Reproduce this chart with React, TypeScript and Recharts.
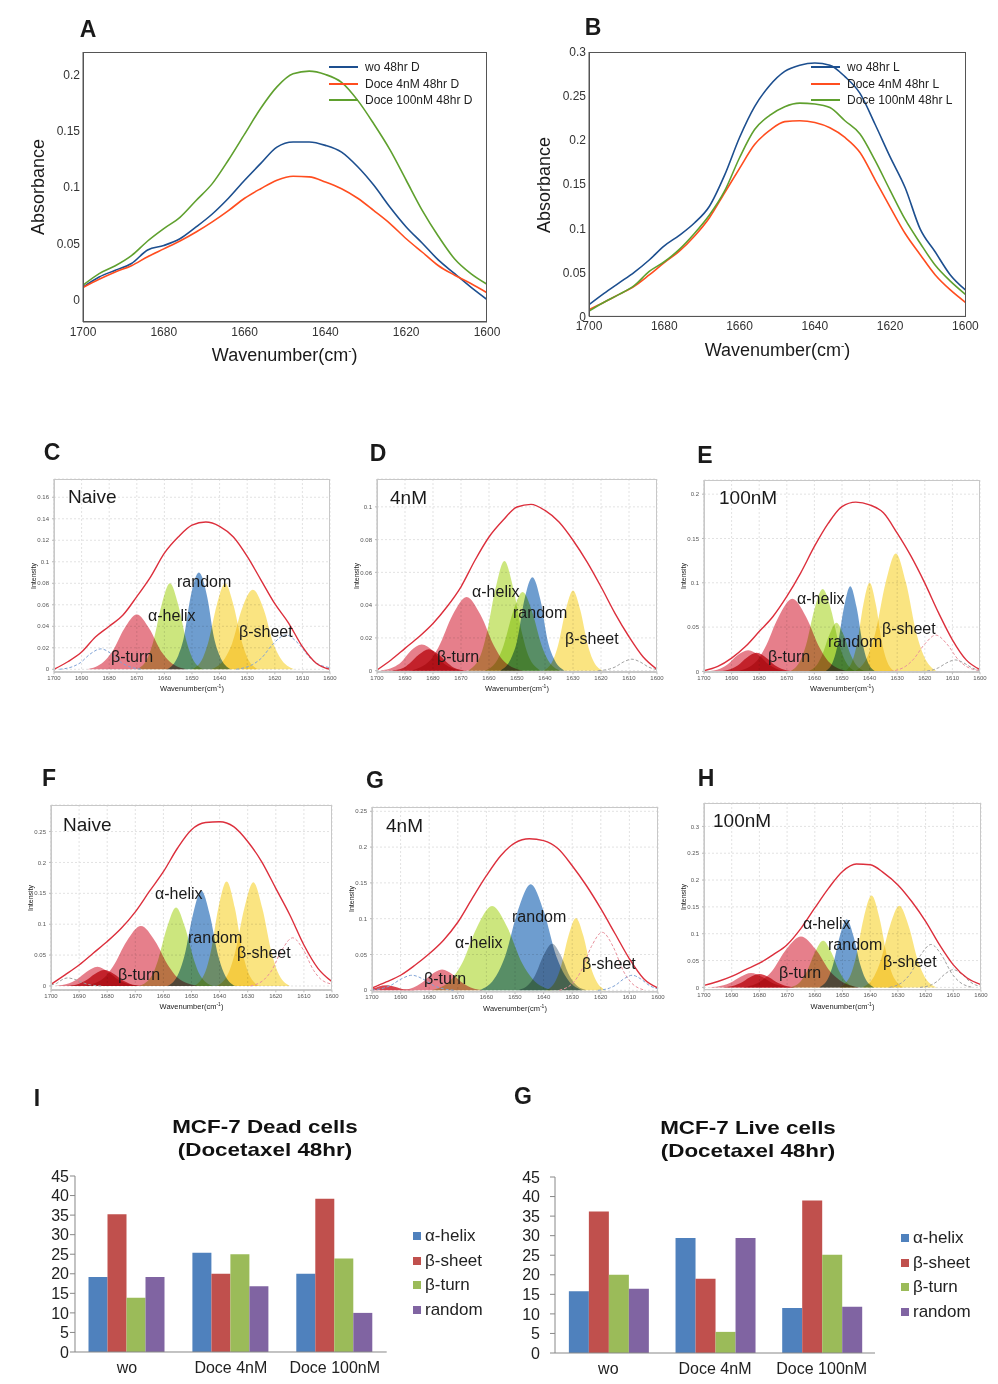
import React from "react"
import { ComposedChart, Line, Area, XAxis, YAxis, CartesianGrid, BarChart, Bar } from "recharts"

const FONT = "'Liberation Sans', Arial, sans-serif"

type Pt = [number, number]
type Box = { left: number; top: number; right: number; bottom: number }

// ---------- A / B : amide I absorbance ----------
const wavenumbers = [1700, 1696, 1692, 1688, 1684, 1680, 1676, 1672, 1668, 1664, 1660, 1656, 1652, 1648, 1644, 1640, 1636, 1632, 1628, 1624, 1620, 1616, 1612, 1608, 1604, 1600]

const deadWo = [0.011, 0.02, 0.026, 0.032, 0.044, 0.048, 0.054, 0.0645, 0.076, 0.09, 0.106, 0.121, 0.1355, 0.14, 0.14, 0.137, 0.131, 0.118, 0.1015, 0.082, 0.0645, 0.05, 0.035, 0.023, 0.011, 0.0]
const deadDoce4 = [0.0107, 0.018, 0.0245, 0.03, 0.038, 0.045, 0.052, 0.06, 0.069, 0.079, 0.09, 0.0985, 0.106, 0.1095, 0.109, 0.1045, 0.0985, 0.09, 0.079, 0.0675, 0.054, 0.042, 0.03, 0.0216, 0.0142, 0.006]
const deadDoce100 = [0.0127, 0.023, 0.03, 0.039, 0.052, 0.063, 0.073, 0.088, 0.103, 0.124, 0.147, 0.17, 0.189, 0.2006, 0.203, 0.2, 0.193, 0.177, 0.156, 0.133, 0.106, 0.079, 0.056, 0.036, 0.023, 0.0136]

const liveWo = [0.0132, 0.026, 0.038, 0.05, 0.064, 0.08, 0.092, 0.106, 0.125, 0.16, 0.203, 0.238, 0.262, 0.278, 0.285, 0.2875, 0.285, 0.272, 0.253, 0.218, 0.181, 0.146, 0.099, 0.073, 0.047, 0.03]
const liveDoce4 = [0.0076, 0.016, 0.025, 0.034, 0.047, 0.061, 0.074, 0.091, 0.112, 0.14, 0.168, 0.195, 0.211, 0.221, 0.222, 0.22, 0.214, 0.203, 0.186, 0.155, 0.124, 0.094, 0.07, 0.047, 0.03, 0.016]
const liveDoce100 = [0.006, 0.016, 0.025, 0.035, 0.051, 0.062, 0.076, 0.094, 0.115, 0.142, 0.18, 0.212, 0.228, 0.238, 0.242, 0.241, 0.237, 0.222, 0.207, 0.177, 0.143, 0.11, 0.083, 0.058, 0.04, 0.025]

const ticks10 = [1700, 1690, 1680, 1670, 1660, 1650, 1640, 1630, 1620, 1610, 1600]

// ---------- C-H : curve fitting ----------
const grid5 = [1700, 1695, 1690, 1685, 1680, 1675, 1670, 1665, 1660, 1655, 1650, 1645, 1640, 1635, 1630, 1625, 1620, 1615, 1610, 1605, 1600]

const cEnv = [0, 0.007, 0.016, 0.03, 0.04, 0.0505, 0.0676, 0.086, 0.108, 0.123, 0.134, 0.137, 0.133, 0.123, 0.105, 0.083, 0.061, 0.043, 0.021, 0.0056, 0]
const cTurn: Pt[] = [[1688, 0], [1682, 0.007], [1679, 0.016], [1674.5, 0.038], [1670, 0.051], [1665.5, 0.038], [1661, 0.016], [1658, 0.007], [1652, 0]]
const cHelix: Pt[] = [[1670, 0], [1666, 0.011], [1664, 0.026], [1661, 0.06], [1658, 0.08], [1655, 0.06], [1652, 0.026], [1650, 0.011], [1646, 0]]
const cRandom: Pt[] = [[1659, 0], [1655, 0.0126], [1653, 0.029], [1650.5, 0.0675], [1647.5, 0.09], [1644.5, 0.0675], [1642, 0.029], [1640, 0.0126], [1636, 0]]
const cSheet1: Pt[] = [[1650, 0], [1646, 0.011], [1644, 0.026], [1641, 0.06], [1638, 0.08], [1635, 0.06], [1632, 0.026], [1630, 0.011], [1626, 0]]
const cSheet2: Pt[] = [[1643, 0], [1638, 0.0104], [1635.5, 0.0237], [1632, 0.0555], [1628, 0.074], [1624, 0.0555], [1620.5, 0.0237], [1618, 0.0104], [1613, 0]]
const cSideL: Pt[] = [[1698, 0], [1693, 0.0027], [1690.5, 0.006], [1687, 0.014], [1683, 0.019], [1679, 0.014], [1675.5, 0.006], [1673, 0.0027], [1668, 0]]
const cSideR: Pt[] = [[1634, 0], [1628, 0.0045], [1625, 0.01], [1620.5, 0.024], [1616, 0.032], [1611.5, 0.024], [1607, 0.01], [1604, 0.0045], [1600, 0.0015]]

const dEnv = [0.0004, 0.0065, 0.0136, 0.0207, 0.0288, 0.039, 0.0512, 0.0674, 0.0816, 0.0918, 0.0999, 0.1015, 0.0978, 0.0907, 0.0796, 0.0664, 0.0512, 0.035, 0.0207, 0.0085, 0.0008]
const dTurnA: Pt[] = [[1699, 0], [1694, 0.0022], [1691.5, 0.005], [1688, 0.012], [1684, 0.016], [1680, 0.012], [1676.5, 0.005], [1674, 0.0022], [1669, 0]]
const dTurnB: Pt[] = [[1695, 0], [1690.5, 0.0018], [1688.5, 0.0042], [1685, 0.0098], [1681.5, 0.013], [1678, 0.0098], [1674.5, 0.0042], [1672.5, 0.0018], [1668, 0]]
const dTurn: Pt[] = [[1688, 0], [1681, 0.0063], [1678, 0.0144], [1673, 0.034], [1668, 0.045], [1663, 0.034], [1658, 0.0144], [1655, 0.0063], [1648, 0]]
const dHelix: Pt[] = [[1667.5, 0], [1663, 0.0094], [1661, 0.0214], [1657.7, 0.05], [1654.5, 0.067], [1651.3, 0.05], [1648, 0.0214], [1646, 0.0094], [1641.5, 0]]
const dHelix2: Pt[] = [[1661.5, 0], [1657, 0.0067], [1654.8, 0.0154], [1651.4, 0.036], [1648, 0.048], [1644.6, 0.036], [1641.2, 0.0154], [1639, 0.0067], [1634.5, 0]]
const dRandom: Pt[] = [[1656, 0], [1652, 0.008], [1650, 0.018], [1647.4, 0.043], [1644.5, 0.057], [1641.6, 0.043], [1639, 0.018], [1637, 0.008], [1633, 0]]
const dSheet: Pt[] = [[1640.5, 0], [1637, 0.0069], [1635.3, 0.0157], [1632.6, 0.037], [1630, 0.049], [1627.4, 0.037], [1624.7, 0.0157], [1623, 0.0069], [1619.5, 0]]
const dSideR: Pt[] = [[1621, 0], [1617, 0.001], [1615, 0.0022], [1612, 0.0053], [1609, 0.007], [1606, 0.0053], [1603, 0.0022], [1601, 0.001], [1600, 0.0006]]

const eEnv = [0.0008, 0.0056, 0.015, 0.028, 0.045, 0.062, 0.0846, 0.111, 0.141, 0.167, 0.186, 0.191, 0.188, 0.179, 0.156, 0.13, 0.0996, 0.066, 0.0357, 0.013, 0.002]
const eTurnA: Pt[] = [[1699, 0], [1694, 0.0034], [1691.5, 0.0077], [1688, 0.018], [1684, 0.024], [1680, 0.018], [1676.5, 0.0077], [1674, 0.0034], [1669, 0]]
const eTurnB: Pt[] = [[1694.5, 0], [1690, 0.003], [1687.8, 0.0067], [1684.4, 0.0158], [1681, 0.021], [1677.6, 0.0158], [1674.2, 0.0067], [1672, 0.003], [1667.5, 0]]
const eTurn: Pt[] = [[1688, 0], [1681, 0.0115], [1678, 0.026], [1673, 0.0615], [1668, 0.082], [1663, 0.0615], [1658, 0.026], [1655, 0.0115], [1648, 0]]
const eHelix: Pt[] = [[1669, 0], [1665, 0.013], [1663, 0.03], [1660, 0.07], [1657, 0.093], [1654, 0.07], [1651, 0.03], [1649, 0.013], [1645, 0]]
const eHelix2: Pt[] = [[1662.5, 0], [1659, 0.0077], [1657.3, 0.0176], [1654.6, 0.041], [1652, 0.055], [1649.4, 0.041], [1646.7, 0.0176], [1645, 0.0077], [1641.5, 0]]
const eRandom: Pt[] = [[1656, 0], [1653, 0.0134], [1651.5, 0.031], [1649.3, 0.072], [1647, 0.096], [1644.7, 0.072], [1642.5, 0.031], [1641, 0.0134], [1638, 0]]
const eSheet1: Pt[] = [[1649, 0], [1646, 0.014], [1644.5, 0.032], [1642.3, 0.075], [1640, 0.1], [1637.7, 0.075], [1635.5, 0.032], [1634, 0.014], [1631, 0]]
const eSheet2: Pt[] = [[1645.5, 0], [1640.5, 0.0186], [1638, 0.0426], [1634.2, 0.1], [1630.5, 0.133], [1626.8, 0.1], [1623, 0.0426], [1620.5, 0.0186], [1615.5, 0]]
const eSideR: Pt[] = [[1632.5, 0], [1627, 0.0057], [1624.3, 0.013], [1620, 0.031], [1616, 0.041], [1612, 0.031], [1607.8, 0.013], [1605, 0.0057], [1600, 0.0008]]
const eSideR2: Pt[] = [[1621, 0], [1617, 0.0018], [1615, 0.0042], [1612, 0.0098], [1609, 0.013], [1606, 0.0098], [1603, 0.0042], [1601, 0.0018], [1600, 0.0012]]

const fEnv = [0.0027, 0.018, 0.034, 0.053, 0.072, 0.0934, 0.12, 0.153, 0.185, 0.223, 0.253, 0.2646, 0.266, 0.258, 0.234, 0.201, 0.158, 0.115, 0.0664, 0.0286, 0.007]
const fTurnA: Pt[] = [[1698.5, 0], [1693.5, 0.0043], [1691, 0.0099], [1687.3, 0.023], [1683.5, 0.031], [1679.7, 0.023], [1676, 0.0099], [1673.5, 0.0043], [1668.5, 0]]
const fTurnB: Pt[] = [[1694.5, 0], [1690, 0.0036], [1687.8, 0.0083], [1684.4, 0.0195], [1681, 0.026], [1677.6, 0.0195], [1674.2, 0.0083], [1672, 0.0036], [1667.5, 0]]
const fTurn: Pt[] = [[1688, 0], [1681, 0.0136], [1678, 0.031], [1673, 0.073], [1668, 0.097], [1663, 0.073], [1658, 0.031], [1655, 0.0136], [1648, 0]]
const fHelix: Pt[] = [[1668.5, 0], [1664, 0.0178], [1662, 0.0406], [1658.7, 0.095], [1655.5, 0.127], [1652.3, 0.095], [1649, 0.0406], [1647, 0.0178], [1642.5, 0]]
const fRandom: Pt[] = [[1658.5, 0], [1654.5, 0.0216], [1652.5, 0.049], [1649.5, 0.1155], [1646.5, 0.154], [1643.5, 0.1155], [1640.5, 0.049], [1638.5, 0.0216], [1634.5, 0]]
const fSheet1: Pt[] = [[1649, 0], [1645, 0.0237], [1643.2, 0.054], [1640.4, 0.127], [1637.5, 0.169], [1634.6, 0.127], [1631.8, 0.054], [1630, 0.0237], [1626, 0]]
const fSheet2: Pt[] = [[1641, 0], [1636.6, 0.0235], [1634.5, 0.054], [1631.2, 0.126], [1628, 0.168], [1624.8, 0.126], [1621.5, 0.054], [1619.4, 0.0235], [1615, 0]]
const fSideR: Pt[] = [[1629, 0], [1624, 0.011], [1621.5, 0.025], [1617.8, 0.0585], [1614, 0.078], [1610.2, 0.0585], [1606.5, 0.025], [1604, 0.011], [1600, 0.003]]
const fSideL: Pt[] = [[1700, 0.002], [1698, 0.0042], [1697, 0.0075], [1694, 0.013], [1691, 0.0098], [1688, 0.0042], [1686, 0.0018], [1682, 0]]

const gEnv = [0.003, 0.0116, 0.021, 0.035, 0.051, 0.07, 0.095, 0.128, 0.16, 0.188, 0.206, 0.2116, 0.209, 0.198, 0.174, 0.146, 0.114, 0.079, 0.044, 0.016, 0.003]
const gTurnA: Pt[] = [[1700, 0.0025], [1698.5, 0.004], [1697.6, 0.0053], [1695, 0.007], [1692.4, 0.0053], [1689.8, 0.0022], [1688, 0.001], [1684.5, 0]]
const gTurn: Pt[] = [[1690.5, 0], [1685.5, 0.004], [1683, 0.0093], [1679.3, 0.0218], [1675.5, 0.029], [1671.7, 0.0218], [1668, 0.0093], [1665.5, 0.004], [1660.5, 0]]
const gSideL: Pt[] = [[1700, 0.0004], [1696, 0.003], [1693.5, 0.0067], [1689.8, 0.0158], [1686, 0.021], [1682.2, 0.0158], [1678.5, 0.0067], [1676, 0.003], [1671, 0]]
const gHelix: Pt[] = [[1679, 0], [1672, 0.0165], [1668.5, 0.0376], [1663.3, 0.088], [1658, 0.1176], [1652.7, 0.088], [1647.5, 0.0376], [1644, 0.0165], [1637, 0]]
const gRandom: Pt[] = [[1662.5, 0], [1656.5, 0.0207], [1653.5, 0.047], [1649, 0.111], [1644.5, 0.148], [1640, 0.111], [1635.5, 0.047], [1632.5, 0.0207], [1626.5, 0]]
const gRandom2: Pt[] = [[1649, 0], [1645, 0.009], [1643, 0.0208], [1640, 0.049], [1637, 0.065], [1634, 0.049], [1631, 0.0208], [1629, 0.009], [1625, 0]]
const gSheet: Pt[] = [[1639.2, 0], [1635.7, 0.014], [1634, 0.032], [1631.3, 0.076], [1628.7, 0.101], [1626.1, 0.076], [1623.5, 0.032], [1621.7, 0.014], [1618.2, 0]]
const gSideR: Pt[] = [[1634.5, 0], [1629.5, 0.0113], [1627, 0.026], [1623.3, 0.061], [1619.5, 0.081], [1615.7, 0.061], [1612, 0.026], [1609.5, 0.0113], [1604.5, 0]]
const gSideR2: Pt[] = [[1621, 0], [1617, 0.003], [1615, 0.0067], [1612, 0.0158], [1609, 0.021], [1606, 0.0158], [1603, 0.0067], [1601, 0.003], [1600, 0.002]]

const hEnv = [0.0037, 0.011, 0.0205, 0.033, 0.045, 0.061, 0.0795, 0.11, 0.148, 0.185, 0.216, 0.2298, 0.2285, 0.213, 0.191, 0.16, 0.123, 0.0795, 0.042, 0.0174, 0.005]
const hTurnA: Pt[] = [[1698, 0], [1693, 0.0038], [1690.5, 0.0086], [1686.8, 0.02], [1683, 0.027], [1679.2, 0.02], [1675.5, 0.0086], [1673, 0.0038], [1668, 0]]
const hTurnB: Pt[] = [[1693.5, 0], [1689, 0.0035], [1686.8, 0.008], [1683.4, 0.019], [1680, 0.025], [1676.6, 0.019], [1673.2, 0.008], [1671, 0.0035], [1666.5, 0]]
const hTurn: Pt[] = [[1686, 0], [1679, 0.0133], [1675.5, 0.03], [1670.3, 0.071], [1665, 0.095], [1659.7, 0.071], [1654.5, 0.03], [1651, 0.0133], [1644, 0]]
const hHelix: Pt[] = [[1669, 0], [1665, 0.012], [1663, 0.028], [1660, 0.065], [1657, 0.087], [1654, 0.065], [1651, 0.028], [1649, 0.012], [1645, 0]]
const hRandom: Pt[] = [[1658.4, 0], [1655.1, 0.0178], [1653.5, 0.0406], [1651, 0.095], [1648.5, 0.127], [1646, 0.095], [1643.5, 0.0406], [1641.9, 0.0178], [1638.6, 0]]
const hSheet1: Pt[] = [[1651, 0], [1647, 0.024], [1645.2, 0.055], [1642.4, 0.128], [1639.5, 0.171], [1636.6, 0.128], [1633.8, 0.055], [1632, 0.024], [1628, 0]]
const hSheet2: Pt[] = [[1643, 0], [1638.5, 0.0213], [1636.3, 0.0486], [1632.9, 0.114], [1629.5, 0.152], [1626.1, 0.114], [1622.7, 0.0486], [1620.5, 0.0213], [1616, 0]]
const hSideR: Pt[] = [[1633, 0], [1628, 0.0112], [1625.5, 0.0256], [1621.8, 0.06], [1618, 0.08], [1614.2, 0.06], [1610.5, 0.0256], [1608, 0.0112], [1603, 0]]
const hSideR2: Pt[] = [[1622, 0], [1618, 0.0046], [1616, 0.0106], [1613, 0.025], [1610, 0.033], [1607, 0.025], [1604, 0.0106], [1602, 0.0046], [1600, 0.002]]

// ---------- I / G : secondary structure (%) ----------
const barCategories = ["wo", "Doce 4nM", "Doce 100nM"]
const deadHelix = [19.2, 25.4, 20.0]
const deadSheet = [35.2, 20.0, 39.2]
const deadTurn = [13.9, 25.0, 23.9]
const deadRandom = [19.2, 16.8, 10.0]
const liveHelix = [15.8, 29.4, 11.5]
const liveSheet = [36.2, 19.0, 39.0]
const liveTurn = [20.0, 5.4, 25.1]
const liveRandom = [16.4, 29.4, 11.8]
const barTicks = [0, 5, 10, 15, 20, 25, 30, 35, 40, 45]

const PINK = "#e36d7b"
const DARKRED = "#d42a35"
const GREEN = "#c5e26c"
const BLUE = "#5a8fc8"
const SLATE = "#9aa9b5"
const YELLOW = "#f9e070"
const DASH_BLUE = "#7fa3d6"
const DASH_PINK = "#e8909c"
const DASH_GRAY = "#a0a0a0"

type Comp = { pts: Pt[]; color: string; dashed?: boolean }
type Lbl = { text: string; x: number; y: number }
type Fit = { box: Box; yDomain: [number, number]; yTicks: number[]; env: number[]; comps: Comp[]; tag: string; tagAt: [number, number]; labels: Lbl[] }

const fits: Fit[] = [
  {
    box: { left: 54, top: 479, right: 330, bottom: 672.3 }, yDomain: [-0.0028, 0.177], yTicks: [0, 0.02, 0.04, 0.06, 0.08, 0.1, 0.12, 0.14, 0.16], env: cEnv,
    comps: [{ pts: cTurn, color: PINK }, { pts: cHelix, color: GREEN }, { pts: cRandom, color: BLUE }, { pts: cSheet1, color: YELLOW }, { pts: cSheet2, color: YELLOW }, { pts: cSideL, color: DASH_BLUE, dashed: true }, { pts: cSideR, color: DASH_BLUE, dashed: true }],
    tag: "Naive", tagAt: [68, 496],
    labels: [{ text: "random", x: 177, y: 582 }, { text: "α-helix", x: 148, y: 616 }, { text: "β-sheet", x: 239, y: 632 }, { text: "β-turn", x: 111, y: 657 }],
  },
  {
    box: { left: 377, top: 479, right: 657, bottom: 672.3 }, yDomain: [-0.001, 0.117], yTicks: [0, 0.02, 0.04, 0.06, 0.08, 0.1], env: dEnv,
    comps: [{ pts: dTurnA, color: PINK }, { pts: dTurnB, color: DARKRED }, { pts: dTurn, color: PINK }, { pts: dHelix, color: GREEN }, { pts: dHelix2, color: GREEN }, { pts: dRandom, color: BLUE }, { pts: dSheet, color: YELLOW }, { pts: dSideR, color: DASH_GRAY, dashed: true }],
    tag: "4nM", tagAt: [390, 497],
    labels: [{ text: "α-helix", x: 472, y: 592 }, { text: "random", x: 513, y: 613 }, { text: "β-sheet", x: 565, y: 639 }, { text: "β-turn", x: 437, y: 657 }],
  },
  {
    box: { left: 704, top: 480, right: 980, bottom: 672.3 }, yDomain: [-0.001, 0.216], yTicks: [0, 0.05, 0.1, 0.15, 0.2], env: eEnv,
    comps: [{ pts: eTurnA, color: PINK }, { pts: eTurnB, color: DARKRED }, { pts: eTurn, color: PINK }, { pts: eHelix, color: GREEN }, { pts: eHelix2, color: GREEN }, { pts: eRandom, color: BLUE }, { pts: eSheet1, color: YELLOW }, { pts: eSheet2, color: YELLOW }, { pts: eSideR, color: DASH_PINK, dashed: true }, { pts: eSideR2, color: DASH_GRAY, dashed: true }],
    tag: "100nM", tagAt: [719, 497],
    labels: [{ text: "α-helix", x: 797, y: 599 }, { text: "random", x: 828, y: 642 }, { text: "β-sheet", x: 882, y: 629 }, { text: "β-turn", x: 768, y: 657 }],
  },
  {
    box: { left: 51, top: 805, right: 332, bottom: 990.3 }, yDomain: [-0.007, 0.293], yTicks: [0, 0.05, 0.1, 0.15, 0.2, 0.25], env: fEnv,
    comps: [{ pts: fTurnA, color: PINK }, { pts: fTurnB, color: DARKRED }, { pts: fTurn, color: PINK }, { pts: fHelix, color: GREEN }, { pts: fRandom, color: BLUE }, { pts: fSheet1, color: YELLOW }, { pts: fSheet2, color: YELLOW }, { pts: fSideR, color: DASH_PINK, dashed: true }, { pts: fSideL, color: DASH_GRAY, dashed: true }],
    tag: "Naive", tagAt: [63, 824],
    labels: [{ text: "α-helix", x: 155, y: 894 }, { text: "random", x: 188, y: 938 }, { text: "β-sheet", x: 237, y: 953 }, { text: "β-turn", x: 118, y: 975 }],
  },
  {
    box: { left: 372, top: 806.7, right: 658, bottom: 991.7 }, yDomain: [-0.0024, 0.256], yTicks: [0, 0.05, 0.1, 0.15, 0.2, 0.25], env: gEnv,
    comps: [{ pts: gTurnA, color: DARKRED }, { pts: gTurn, color: PINK }, { pts: gHelix, color: GREEN }, { pts: gRandom, color: BLUE }, { pts: gRandom2, color: SLATE }, { pts: gSheet, color: YELLOW }, { pts: gSideL, color: DASH_BLUE, dashed: true }, { pts: gSideR, color: DASH_PINK, dashed: true }, { pts: gSideR2, color: DASH_BLUE, dashed: true }],
    tag: "4nM", tagAt: [386, 825],
    labels: [{ text: "random", x: 512, y: 917 }, { text: "α-helix", x: 455, y: 943 }, { text: "β-sheet", x: 582, y: 964 }, { text: "β-turn", x: 424, y: 979 }],
  },
  {
    box: { left: 704, top: 803.3, right: 981, bottom: 990 }, yDomain: [-0.0043, 0.3436], yTicks: [0, 0.05, 0.1, 0.15, 0.2, 0.25, 0.3], env: hEnv,
    comps: [{ pts: hTurnA, color: PINK }, { pts: hTurnB, color: DARKRED }, { pts: hTurn, color: PINK }, { pts: hHelix, color: GREEN }, { pts: hRandom, color: BLUE }, { pts: hSheet1, color: YELLOW }, { pts: hSheet2, color: YELLOW }, { pts: hSideR, color: DASH_GRAY, dashed: true }, { pts: hSideR2, color: DASH_GRAY, dashed: true }],
    tag: "100nM", tagAt: [713, 820],
    labels: [{ text: "α-helix", x: 803, y: 924 }, { text: "random", x: 828, y: 945 }, { text: "β-sheet", x: 883, y: 962 }, { text: "β-turn", x: 779, y: 973 }],
  },
]

type Series = { name: string; values: number[]; color: string }

const deadLines: Series[] = [
  { name: "wo 48hr D", values: deadWo, color: "#1d4f8f" },
  { name: "Doce 4nM 48hr D", values: deadDoce4, color: "#ff4d1f" },
  { name: "Doce 100nM 48hr D", values: deadDoce100, color: "#5fa02e" },
]
const liveLines: Series[] = [
  { name: "wo 48hr L", values: liveWo, color: "#1d4f8f" },
  { name: "Doce 4nM 48hr L", values: liveDoce4, color: "#ff4d1f" },
  { name: "Doce 100nM 48hr L", values: liveDoce100, color: "#5fa02e" },
]

const BAR_BLUE = "#4f81bd"
const BAR_RED = "#c0504d"
const BAR_GREEN = "#9bbb59"
const BAR_PURPLE = "#8064a2"

const deadBars: Series[] = [
  { name: "α-helix", values: deadHelix, color: BAR_BLUE },
  { name: "β-sheet", values: deadSheet, color: BAR_RED },
  { name: "β-turn", values: deadTurn, color: BAR_GREEN },
  { name: "random", values: deadRandom, color: BAR_PURPLE },
]
const liveBars: Series[] = [
  { name: "α-helix", values: liveHelix, color: BAR_BLUE },
  { name: "β-sheet", values: liveSheet, color: BAR_RED },
  { name: "β-turn", values: liveTurn, color: BAR_GREEN },
  { name: "random", values: liveRandom, color: BAR_PURPLE },
]

const everyOther = (v: number, i: number) => (i % 2 === 0 ? String(v) : "")

function Text({ x, y, size, children, bold, center, rotate }: { x: number; y: number; size: number; children: React.ReactNode; bold?: boolean; center?: boolean; rotate?: boolean }) {
  const tf = `translate(${center ? "-50%" : "0"}, -50%)${rotate ? " rotate(-90deg)" : ""}`
  return (
    <div style={{ position: "absolute", left: x, top: y, fontSize: size, fontWeight: bold ? 700 : 400, transform: tf, whiteSpace: "nowrap", lineHeight: 1, color: "#1a1a1a" }}>
      {children}
    </div>
  )
}

function RawPanel({ box, series, yDomain, yTicks, legendX, legendY }: { box: Box; series: Series[]; yDomain: [number, number]; yTicks: number[]; legendX: number; legendY: number }) {
  const yw = 46, xh = 26, mt = 8, mr = 18
  const x0 = box.left - yw, y0 = box.top - mt
  const w = box.right + mr - x0, h = box.bottom + xh - y0
  const data = wavenumbers.map((wn, i) => {
    const row: Record<string, number> = { w: wn }
    series.forEach((s, k) => (row["s" + k] = s.values[i]))
    return row
  })
  return (
    <>
      <div style={{ position: "absolute", left: x0, top: y0 }}>
        <ComposedChart width={w} height={h} data={data} margin={{ top: mt, right: mr, bottom: 0, left: 0 }}>
          <XAxis dataKey="w" type="number" domain={[1600, 1700]} reversed allowDataOverflow ticks={ticks10} interval={0} height={xh}
            tickLine={false} tickSize={0} tickMargin={5} tickFormatter={everyOther} tick={{ fontSize: 12, fill: "#333" }} axisLine={{ stroke: "#555" }} />
          <XAxis xAxisId="inner" dataKey="w" type="number" domain={[1600, 1700]} reversed allowDataOverflow ticks={ticks10} interval={0} height={0}
            mirror tick={false} tickSize={4} axisLine={false} tickLine={{ stroke: "#555" }} />
          <YAxis type="number" domain={yDomain} allowDataOverflow ticks={yTicks} interval={0} width={yw}
            tickLine={false} tickSize={0} tickMargin={3} tickFormatter={everyOther} tick={{ fontSize: 12, fill: "#333" }} axisLine={{ stroke: "#555" }} />
          <YAxis yAxisId="inner" type="number" domain={yDomain} allowDataOverflow ticks={yTicks} interval={0} width={0}
            mirror tick={false} tickSize={4} axisLine={false} tickLine={{ stroke: "#555" }} />
          {series.map((s, k) => (
            <Line key={k} dataKey={"s" + k} type="monotone" stroke={s.color} strokeWidth={1.6} dot={false} isAnimationActive={false} />
          ))}
        </ComposedChart>
        <div style={{ position: "absolute", left: yw, top: mt, width: box.right - box.left, height: box.bottom - box.top, border: "1px solid #555", boxSizing: "border-box", pointerEvents: "none" }} />
      </div>
      {series.map((s, k) => (
        <div key={k} style={{ position: "absolute", left: legendX, top: legendY + k * 16.5 - 7, height: 14, display: "flex", alignItems: "center", fontSize: 12, color: "#222" }}>
          <span style={{ display: "inline-block", width: 29, height: 2, background: s.color, marginRight: 7 }} />
          {s.name}
        </div>
      ))}
      <Text x={box.left - 45} y={(box.top + box.bottom) / 2} size={18} center rotate>Absorbance</Text>
      <Text x={(box.left + box.right) / 2} y={box.bottom + 33} size={18} center>
        Wavenumber(cm<sup style={{ fontSize: 10 }}>-</sup>)
      </Text>
    </>
  )
}

function buildTable(env: number[], comps: Comp[]) {
  const rows = new Map<number, Record<string, number>>()
  const row = (w: number) => {
    if (!rows.has(w)) rows.set(w, { w })
    return rows.get(w)!
  }
  grid5.forEach((w, i) => (row(w).env = env[i]))
  comps.forEach((c, ci) => c.pts.forEach(([w, v]) => (row(w)["k" + ci] = v)))
  return [...rows.values()].sort((a, b) => b.w - a.w)
}

function FitPanel({ fit }: { fit: Fit }) {
  const { box } = fit
  const yw = 30, xh = 14, mt = 5, mr = 14
  const x0 = box.left - yw, y0 = box.top - mt
  const w = box.right + mr - x0, h = box.bottom + xh - y0
  const data = buildTable(fit.env, fit.comps)
  const tiny = { fontSize: 6, fill: "#555" }
  return (
    <>
      <div className="spec" style={{ position: "absolute", left: x0, top: y0 }}>
        <ComposedChart width={w} height={h} data={data} margin={{ top: mt, right: mr, bottom: 0, left: 0 }}>
          <CartesianGrid stroke="#e2e2e2" strokeDasharray="2 2" />
          <XAxis dataKey="w" type="number" domain={[1600, 1700]} reversed allowDataOverflow ticks={ticks10} interval={0} height={xh}
            tickSize={2} tickMargin={1} tick={tiny} axisLine={{ stroke: "#bbb" }} tickLine={{ stroke: "#bbb" }} />
          <YAxis type="number" domain={fit.yDomain} allowDataOverflow ticks={fit.yTicks} interval={0} width={yw}
            tickSize={2} tickMargin={3} tick={tiny} axisLine={{ stroke: "#bbb" }} tickLine={{ stroke: "#bbb" }} />
          {fit.comps.map((c, k) =>
            c.dashed ? null : (
              <Area key={k} dataKey={"k" + k} type="monotone" connectNulls baseValue={0} stroke="none" fill={c.color} fillOpacity={0.88} isAnimationActive={false} />
            )
          )}
          {fit.comps.map((c, k) =>
            c.dashed ? (
              <Line key={k} dataKey={"k" + k} type="monotone" connectNulls stroke={c.color} strokeWidth={1} strokeDasharray="3 2" dot={false} isAnimationActive={false} />
            ) : null
          )}
          <Line dataKey="env" type="monotone" connectNulls stroke="#dc2f3c" strokeWidth={1.4} dot={false} isAnimationActive={false} />
        </ComposedChart>
        <div style={{ position: "absolute", left: yw, top: mt, width: box.right - box.left, height: box.bottom - box.top, border: "1px solid #c8c8c8", boxSizing: "border-box", pointerEvents: "none" }} />
      </div>
      <Text x={box.left - 21} y={(box.top + box.bottom) / 2} size={7} center rotate>Intensity</Text>
      <Text x={(box.left + box.right) / 2} y={box.bottom + 16} size={7.5} center>
        Wavenumber(cm<sup style={{ fontSize: 5 }}>-1</sup>)
      </Text>
      <Text x={fit.tagAt[0]} y={fit.tagAt[1]} size={19}>{fit.tag}</Text>
      {fit.labels.map((l, i) => (
        <Text key={i} x={l.x} y={l.y} size={16}>{l.text}</Text>
      ))}
    </>
  )
}

function BarPanel({ box, series, title, titleX, legendX, legendY, yTickMargin }: { box: Box; series: Series[]; title: string[]; titleX: number; legendX: number; legendY: number; yTickMargin: number }) {
  const yw = 60, xh = 30, mt = 10
  const x0 = box.left - yw, y0 = box.top - mt
  const w = box.right - x0, h = box.bottom + xh - y0
  const data = barCategories.map((c, i) => {
    const row: Record<string, string | number> = { c }
    series.forEach((s, k) => (row["v" + k] = s.values[i]))
    return row
  })
  return (
    <>
      <div style={{ position: "absolute", left: x0, top: y0 }}>
        <BarChart width={w} height={h} data={data} margin={{ top: mt, right: 0, bottom: 0, left: 0 }} barCategoryGap="13%" barGap={0}>
          <XAxis dataKey="c" height={xh} interval={0} tickLine={false} tickSize={0} tickMargin={10} tick={{ fontSize: 16, fill: "#222" }} axisLine={{ stroke: "#888" }} />
          <YAxis type="number" domain={[0, 45]} ticks={barTicks} interval={0} width={yw} tickSize={5} tickMargin={yTickMargin}
            tick={{ fontSize: 16, fill: "#222" }} axisLine={{ stroke: "#888" }} tickLine={{ stroke: "#888" }} />
          {series.map((s, k) => (
            <Bar key={k} dataKey={"v" + k} fill={s.color} isAnimationActive={false} />
          ))}
        </BarChart>
      </div>
      {title.map((t, i) => (
        <div key={i} style={{ position: "absolute", left: titleX, top: box.top - 49 + i * 23, transform: "translate(-50%, -50%) scaleX(1.18)", fontSize: 19, fontWeight: 700, whiteSpace: "nowrap", color: "#111" }}>
          {t}
        </div>
      ))}
      {series.map((s, k) => (
        <div key={k} style={{ position: "absolute", left: legendX, top: legendY + k * 24.7 - 10, height: 20, display: "flex", alignItems: "center", fontSize: 17, color: "#222" }}>
          <span style={{ display: "inline-block", width: 8, height: 8, background: s.color, marginRight: 4 }} />
          {s.name}
        </div>
      ))}
    </>
  )
}

export default function App() {
  const letters: [string, number, number][] = [
    ["A", 88, 29], ["B", 593, 27], ["C", 52, 452], ["D", 378, 453], ["E", 705, 455],
    ["F", 49, 778], ["G", 375, 780], ["H", 706, 778], ["I", 37, 1098], ["G", 523, 1096],
  ]
  return (
    <div style={{ position: "absolute", left: 0, top: 0, width: 998, height: 1384, background: "#fff", overflow: "hidden", fontFamily: FONT }}>
      <style>{`.spec .recharts-area { mix-blend-mode: multiply; }`}</style>
      <RawPanel box={{ left: 82.7, top: 51.7, right: 486.7, bottom: 321.7 }} series={deadLines} yDomain={[-0.02, 0.22]}
        yTicks={[0, 0.025, 0.05, 0.075, 0.1, 0.125, 0.15, 0.175, 0.2]} legendX={329} legendY={67} />
      <RawPanel box={{ left: 589.3, top: 52.3, right: 965.7, bottom: 316.7 }} series={liveLines} yDomain={[0, 0.3]}
        yTicks={[0, 0.025, 0.05, 0.075, 0.1, 0.125, 0.15, 0.175, 0.2, 0.225, 0.25, 0.275, 0.3]} legendX={811} legendY={67} />
      {fits.map((f, i) => (
        <FitPanel key={i} fit={f} />
      ))}
      <BarPanel box={{ left: 75, top: 1175.7, right: 386.7, bottom: 1351.7 }} series={deadBars} title={["MCF-7 Dead cells", "(Docetaxel 48hr)"]}
        titleX={265} legendX={413} legendY={1236} yTickMargin={1} />
      <BarPanel box={{ left: 555, top: 1177.3, right: 875, bottom: 1353.3 }} series={liveBars} title={["MCF-7 Live cells", "(Docetaxel 48hr)"]}
        titleX={748} legendX={901} legendY={1238} yTickMargin={10} />
      {letters.map(([t, x, y], i) => (
        <Text key={i} x={x} y={y} size={23} bold center>{t}</Text>
      ))}
    </div>
  )
}
